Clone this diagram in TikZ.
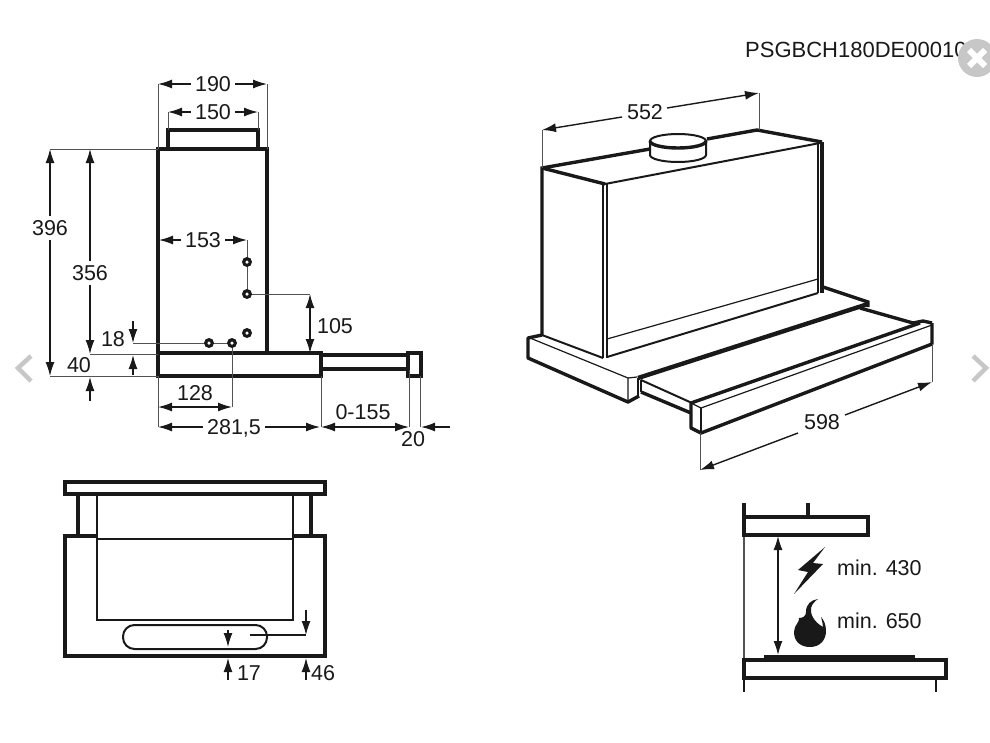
\documentclass[tikz,border=0pt]{standalone}
\usepackage{fontspec}
\setmainfont{Liberation Sans}
\usetikzlibrary{arrows.meta}
\tikzset{>={Latex[length=14,width=9]}}
\definecolor{inkc}{rgb}{0.10,0.10,0.10}
\definecolor{uic}{rgb}{0.78,0.78,0.78}
\tikzstyle{dimtext} = [inner sep=4pt, text height=15.5pt, text depth=0pt, text=inkc, font=\fontsize{21.5}{24}\selectfont]
\tikzstyle{dimline} = [inkc, line width=1.4pt]
\tikzstyle{extline} = [inkc!75, line width=0.9pt]
\tikzstyle{heavy} = [inkc, line width=3.4pt]
\tikzstyle{medium} = [inkc, line width=2pt]
\tikzstyle{slim} = [inkc, line width=1.2pt]
\tikzstyle{hole} = [circle, fill=inkc, minimum size=10pt, inner sep=0pt]
\tikzstyle{holeeye} = [circle, fill=white, minimum size=3.5pt, inner sep=0pt]
\tikzstyle{chevron} = [uic, line width=4.5pt, line join=miter]

\begin{document}
\begin{tikzpicture}[x=1pt,y=-1pt]
	\useasboundingbox (0,0) rectangle (990,742);

	% side view
	\draw[heavy] (158,353) -- (158,149) -- (267,149) -- (267,353);
	\draw[heavy] (168,149) -- (168,130) -- (258,130) -- (258,149);
	\draw[heavy] (158,353) rectangle (321,376);
	\draw[heavy] (321,355) -- (408,355) (321,369) -- (408,369);
	\draw[heavy] (408,353) rectangle (421,376);

	\draw[extline] (158,149) -- (158,84) (267,149) -- (267,84);
	\draw[extline] (168,130) -- (168,112) (258,130) -- (258,112);
	\draw[extline] (158,149) -- (50,149) (158,376) -- (50,376);
	\draw[extline] (158,354) -- (90,354);
	\draw[extline] (158,376) -- (158,427) (321,376) -- (321,427);
	\draw[extline] (409,370) -- (409,427) (420,376) -- (420,427);
	\draw[extline] (133,343) -- (232,343) -- (232,407);
	\draw[extline] (247,240) -- (247,294) -- (310,294);

	\node (holeA) [hole] at (209,343) {};
	\node (holeB) [hole] at (232,343) {};
	\node (holeC) [hole] at (247,333) {};
	\node (holeD) [hole] at (247,294) {};
	\node (holeE) [hole] at (247,262) {};
	\foreach \h in {holeA,holeB,holeC,holeD,holeE}
		\node [holeeye] at (\h) {};

	\node (w190) [dimtext] at (213,84) {190};
	\draw[dimline,->] (w190) -- (158,84);
	\draw[dimline,->] (w190) -- (267,84);
	\node (w150) [dimtext] at (213,112) {150};
	\draw[dimline,->] (w150) -- (168,112);
	\draw[dimline,->] (w150) -- (258,112);
	\node (h396) [dimtext] at (50,228) {396};
	\draw[dimline,->] (h396) -- (50,149);
	\draw[dimline,->] (h396) -- (50,376);
	\node (h356) [dimtext] at (90,273) {356};
	\draw[dimline,->] (h356) -- (90,149);
	\draw[dimline,->] (h356) -- (90,354);
	\node (w153) [dimtext] at (203,240) {153};
	\draw[dimline,->] (w153) -- (159,240);
	\draw[dimline,->] (w153) -- (247,240);
	\node (h105) [dimtext] at (335,326) {105};
	\draw[dimline,<->] (310,294) -- (310,353);
	\node (h18) [dimtext] at (113,339) {18};
	\draw[dimline,->] (133,321) -- (133,343);
	\node (h40) [dimtext] at (79,365) {40};
	\draw[dimline,->] (133,375) -- (133,355);
	\draw[dimline,->] (90,401) -- (90,377);
	\node (w128) [dimtext] at (195,393) {128};
	\draw[dimline,<->] (158,407) -- (232,407);
	\node (w281) [dimtext] at (234,427) {281,5};
	\draw[dimline,->] (w281) -- (158,427);
	\draw[dimline,->] (w281) -- (320,427);
	\node (w155) [dimtext] at (363,412) {0-155};
	\draw[dimline,<->] (321,427) -- (409,427);
	\node (w20) [dimtext] at (413,439) {20};
	\draw[dimline,->] (450,427) -- (421,427);

	% front view
	\draw[heavy] (65,482) rectangle (325,494);
	\draw[heavy] (78,494) -- (78,536) (311,494) -- (311,536);
	\draw[heavy] (97,536) -- (65,536) -- (65,656) -- (325,656) -- (325,536) -- (293,536);
	\draw[medium] (97,494) -- (97,620) -- (293,620) -- (293,494);
	\draw[slim] (97,539) -- (293,539);
	\draw[medium, rounded corners=11.5pt] (123,625) rectangle (267,649);
	\draw[slim] (250,635) -- (306,635);
	\draw[dimline,->] (228,630) -- (228,647);
	\draw[dimline,->] (228,680) -- (228,658);
	\node (h17) [dimtext] at (249,673) {17};
	\draw[dimline,->] (306,610) -- (306,635);
	\draw[dimline,->] (306,680) -- (306,658);
	\node (h46) [dimtext] at (323,673) {46};

	% perspective view
	\draw[heavy] (542,335) -- (542,168) -- (650,149);
	\draw[heavy] (707,139) -- (757,130) -- (822,142);
	\draw[heavy] (542,168) -- (605,184);
	\draw[medium] (605,184) -- (820,143);
	\draw[medium] (650,141) -- (650,155) arc[start angle=180, end angle=0, x radius=28, y radius=7] -- (706,141);
	\draw[medium] (678,141) ellipse [x radius=28, y radius=7];
	\draw[heavy] (650,141) arc[start angle=180, end angle=0, x radius=28, y radius=7];

	\draw[medium] (603,184) -- (603,358) (607,184) -- (607,358);
	\draw[medium] (818,142) -- (818,293);
	\draw[heavy] (822,142) -- (822,293);
	\draw[slim] (607,339) -- (818,279);
	\draw[medium] (607,357) -- (818,293);

	\draw[heavy, line join=round] (542,335) -- (528,338) -- (528,358) -- (628,402) -- (639,396);
	\draw[medium] (542,335) -- (603,358);
	\draw[slim] (530,338) -- (628,378) -- (628,402);
	\draw[slim] (628,378) -- (637,377);
	\draw[medium] (638,378) -- (638,397);
	\draw[heavy] (823,287) -- (868,302) -- (868,307);
	\draw[line width=4.4pt, inkc] (868,304) -- (638,378);

	\draw[heavy] (860,308) -- (913,323) -- (923,321) -- (932,323);
	\draw[medium] (641,380) -- (692,403);
	\draw[slim] (641,380) -- (641,392);
	\draw[heavy] (641,392) -- (691,413);
	\draw[heavy, line join=round] (920,323) -- (691,403) -- (691,428) -- (701,433) -- (932,344) -- (932,323);
	\draw[slim] (691,403) -- (701,408) -- (932,325);
	\draw[slim] (701,408) -- (701,433);

	\draw[extline] (542,168) -- (542,130) (759,130) -- (759,93);
	\node (w552) [dimtext] at (645,112) {552};
	\draw[dimline,->] (622,117) -- (542,130);
	\draw[dimline,->] (667,108) -- (759,93);
	\draw[extline] (700,433) -- (700,470) (932,344) -- (932,382);
	\node (w598) [dimtext] at (822,422) {598};
	\draw[dimline,->] (798,433) -- (700,470);
	\draw[dimline,->] (845,415) -- (932,382);

	% clearance detail
	\draw[extline, line width=1.2pt] (744,535) -- (744,660);
	\draw[heavy] (744,503) -- (744,517) (808,503) -- (808,517);
	\draw[heavy] (744,517) rectangle (868,535);
	\draw[heavy] (744,660) rectangle (946,678);
	\draw[slim] (744,678) -- (744,692) (936,678) -- (936,692);
	\fill[inkc] (764,655) rectangle (915,661);
	\draw[dimline,<->] (778,536) -- (778,655);
	\fill[inkc] (825,547) -- (798,570) -- (808,572) -- (794,594) -- (823,564) -- (813,563) -- cycle;
	\fill[inkc] (818,599) .. controls (811,600) and (806,604) .. (806,612)
		.. controls (806,616) and (803,618) .. (799,618)
		.. controls (800,622) and (794,625) .. (794,632)
		.. controls (794,642) and (801,647) .. (810,647)
		.. controls (820,647) and (826,640) .. (826,631)
		.. controls (826,625) and (824,620) .. (821,617)
		.. controls (822,621) and (823,624) .. (823,627)
		.. controls (814,622) and (810,614) .. (811,608)
		.. controls (812,604) and (815,601) .. (818,599) -- cycle;
	\node (min430) [dimtext, anchor=west, inner sep=0pt] at (837,568) {min. 430};
	\node (min650) [dimtext, anchor=west, inner sep=0pt] at (837,621) {min. 650};

	% code and viewer marks
	\node (partcode) [dimtext, anchor=west, inner sep=0pt, font=\fontsize{22}{24}\selectfont] at (745,50) {PSGBCH180DE00010};
	\node (closedisc) [circle, fill=uic, minimum size=38pt, inner sep=0pt] at (977,58) {};
	\draw[white, line width=6pt] (969,50) -- (985,66) (985,50) -- (969,66);
	\draw[chevron] (31,356) -- (18,368) -- (31,381);
	\draw[chevron] (973,356) -- (986,368) -- (973,381);
\end{tikzpicture}
\end{document}
